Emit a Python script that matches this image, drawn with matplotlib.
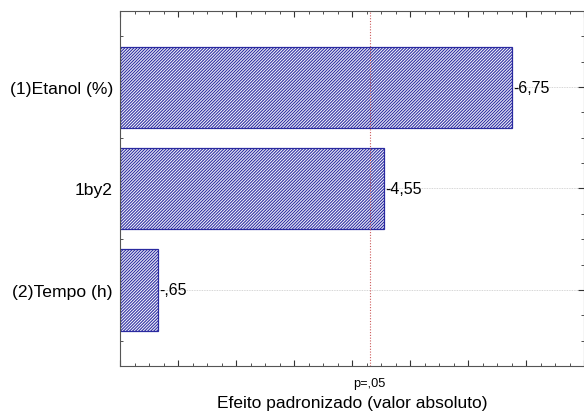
import matplotlib
matplotlib.use("Agg")
import matplotlib.pyplot as plt
from matplotlib.ticker import MultipleLocator
import numpy as np

plt.rcParams['font.family'] = ['Liberation Sans', 'DejaVu Sans']
plt.rcParams['hatch.linewidth'] = 0.75
plt.rcParams['hatch.color'] = '#5555b0'

categories = ["(1)Etanol (%)", "1by2", "(2)Tempo (h)"]
effects = [-6.75, -4.55, -0.65]
value_labels = ["-6,75", "-4,55", "-,65"]
p_critical = 4.303
p_label = "p=,05"
xlabel = "Efeito padronizado (valor absoluto)"

fig = plt.figure(figsize=(5.84, 4.14), dpi=100)
ax = fig.add_axes([120/584, 47/414, 464/584, 355/414])

ypos = np.arange(len(categories))
absvals = np.abs(effects)

for y in ypos:
    ax.axhline(y, color='#c8c8c8', lw=0.6, ls=(0, (1, 1)), zorder=0)

ax.barh(ypos, absvals, height=0.8, color='#f2f2fa', edgecolor='#2a2aa0',
        hatch='/' * 11, linewidth=0.9, zorder=2)

for y, v, lab in zip(ypos, absvals, value_labels):
    ax.text(v + 0.03, y, lab, va='center', ha='left', fontsize=11.5, zorder=3)

ax.axvline(p_critical, color='#cc5a5a', lw=0.8, ls=(0, (1, 1.5)), zorder=3)

ax.set_xlim(0, 8)
ax.set_ylim(len(categories) - 0.25, -0.75)
ax.set_yticks(ypos)
ax.set_yticklabels(categories, fontsize=12.6)
ax.yaxis.set_minor_locator(MultipleLocator(0.25))
ax.xaxis.set_major_locator(MultipleLocator(1))
ax.xaxis.set_minor_locator(MultipleLocator(0.25))
ax.tick_params(axis='both', which='major', direction='in', length=4, width=0.8,
               top=True, right=True, color='#333333')
ax.tick_params(axis='both', which='minor', direction='in', length=2, width=0.6,
               top=True, right=True, color='#333333')
ax.tick_params(axis='x', labelbottom=False)
ax.tick_params(axis='y', pad=5)

for s in ax.spines.values():
    s.set_color('#555555')
    s.set_linewidth(0.8)

ax.text(p_critical, -0.03, p_label, transform=ax.get_xaxis_transform(),
        ha='center', va='top', fontsize=9.2)
ax.set_xlabel(xlabel, fontsize=12.5, labelpad=17.5)

fig.savefig("out.png", dpi=100)
